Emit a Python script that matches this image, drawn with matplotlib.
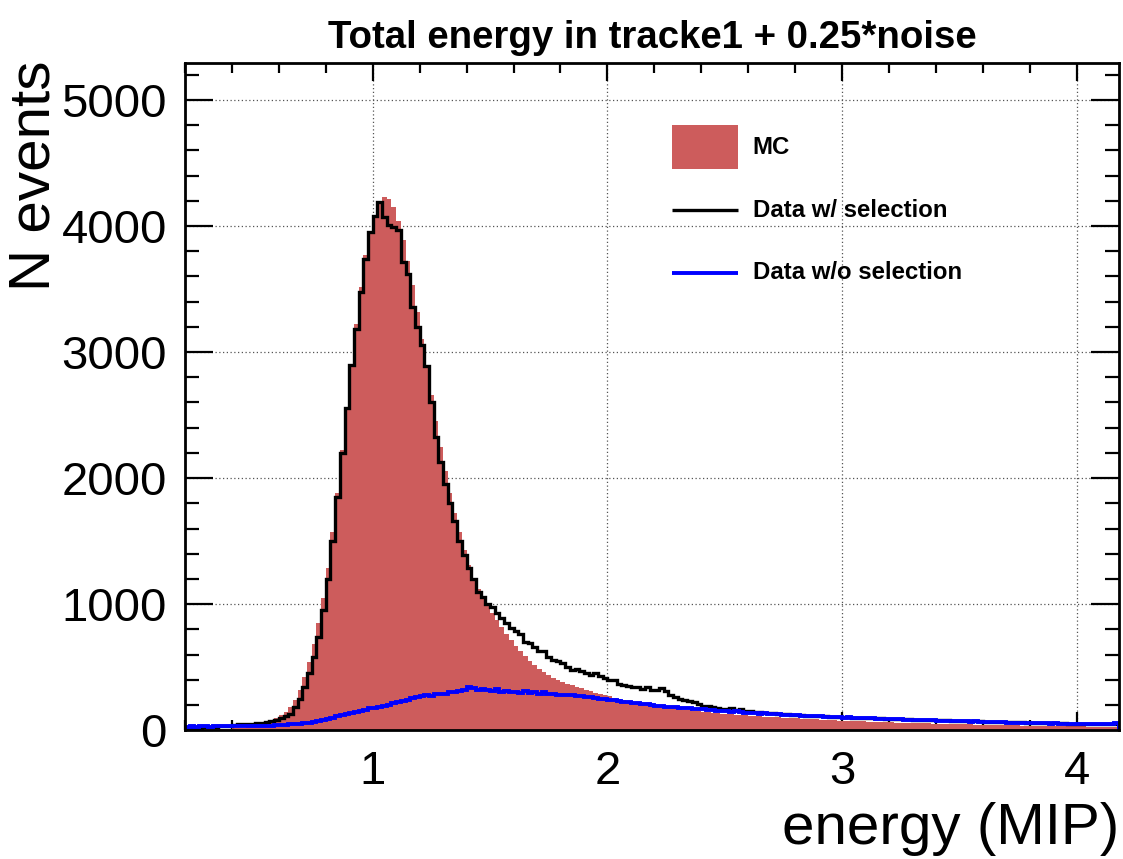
import numpy as np
import matplotlib
matplotlib.use("Agg")
import matplotlib.pyplot as plt
from matplotlib.ticker import MultipleLocator
from matplotlib.patches import Rectangle

# ---------------- data ----------------
BIN_LO = 0.2
BIN_W = 0.02

mc_counts = [
    4, 4, 5, 5, 6, 6, 7, 8, 9, 11,
    14, 17, 21, 27, 34, 42, 52, 64, 78, 95,
    118, 145, 185, 240, 320, 420, 540, 680, 850, 1050,
    1290, 1570, 1880, 2220, 2560, 2900, 3220, 3520, 3770, 3960,
    4090, 4180, 4230, 4215, 4150, 4040, 3890, 3720, 3530, 3320,
    3100, 2880, 2660, 2450, 2250, 2060, 1880, 1720, 1570, 1430,
    1310, 1210, 1120, 1050, 985, 930, 875, 820, 765, 715,
    670, 630, 590, 550, 515, 485, 460, 435, 415, 398,
    383, 370, 356, 343, 331, 320, 309, 298, 288, 278,
    268, 259, 250, 241, 233, 226, 219, 212, 205, 199,
    193, 187, 182, 177, 172, 167, 162, 158, 154, 150,
    146, 142, 138, 135, 132, 129, 126, 123, 120, 118,
    115, 113, 110, 108, 106, 104, 102, 100, 98, 96,
    94, 92, 90, 88, 86, 84, 82, 80, 78, 76,
    74, 73, 72, 70, 69, 68, 66, 65, 64, 63,
    62, 60, 59, 58, 57, 56, 55, 54, 53, 52,
    51, 50, 49, 48, 47, 46, 46, 45, 44, 43,
    42, 42, 41, 40, 39, 38, 38, 37, 36, 36,
    35, 34, 34, 33, 33, 32, 31, 31, 30, 30,
    29, 29, 28, 28, 27, 27, 26, 26, 25,
]

data_sel_counts = [
    18, 20, 22, 24, 25, 27, 28, 30, 33, 36,
    40, 45, 48, 50, 52, 55, 58, 63, 70, 80,
    95, 110, 130, 180, 250, 340, 450, 580, 740, 950,
    1200, 1500, 1850, 2200, 2560, 2900, 3180, 3480, 3740, 3950,
    4080, 4190, 4070, 4010, 3995, 3970, 3715, 3620, 3360, 3200,
    3060, 2890, 2600, 2330, 2130, 1950, 1800, 1660, 1500, 1390,
    1290, 1200, 1100, 1060, 1000, 975, 930, 890, 850, 810,
    790, 760, 700, 690, 660, 630, 625, 580, 560, 545,
    530, 505, 480, 485, 470, 455, 440, 450, 430, 410,
    400, 395, 370, 360, 350, 340, 345, 330, 340, 320,
    315, 335, 310, 280, 265, 250, 240, 228, 220, 205,
    195, 190, 182, 178, 170, 168, 172, 160, 165, 155,
    150, 145, 142, 140, 135, 138, 130, 128, 125, 122,
    120, 118, 114, 116, 112, 110, 111, 107, 106, 103,
    102, 104, 99, 100, 97, 96, 97, 93, 94, 91,
    90, 91, 87, 86, 88, 84, 83, 84, 80, 79,
    78, 77, 78, 74, 75, 73, 74, 70, 71, 69,
    68, 67, 66, 65, 64, 63, 62, 61, 62, 59,
    58, 57, 57, 56, 54, 55, 53, 54, 52, 51,
    50, 51, 49, 50, 48, 49, 48, 50, 52,
]

data_nosel_counts = [
    28, 30, 27, 29, 31, 28, 30, 32, 29, 31,
    30, 32, 31, 33, 32, 34, 33, 35, 36, 38,
    40, 42, 45, 48, 52, 55, 60, 66, 72, 80,
    92, 100, 110, 118, 126, 135, 145, 155, 163, 172,
    178, 185, 195, 200, 212, 222, 230, 240, 255, 262,
    270, 275, 272, 285, 290, 288, 300, 305, 310, 320,
    345, 335, 322, 330, 318, 312, 325, 305, 310, 300,
    305, 298, 308, 295, 300, 290, 302, 285, 288, 280,
    282, 275, 278, 270, 272, 262, 265, 255, 250, 248,
    240, 236, 230, 225, 222, 218, 212, 210, 205, 200,
    195, 190, 186, 184, 180, 176, 178, 172, 170, 168,
    166, 162, 158, 155, 150, 148, 146, 150, 144, 140,
    138, 136, 132, 134, 130, 128, 126, 124, 122, 121,
    118, 116, 115, 112, 113, 110, 108, 106, 105, 104,
    100, 101, 98, 97, 96, 94, 93, 91, 92, 89,
    87, 88, 85, 84, 82, 83, 80, 79, 80, 77,
    76, 74, 75, 72, 71, 72, 70, 68, 69, 66,
    65, 63, 64, 62, 61, 60, 59, 58, 59, 56,
    55, 56, 54, 53, 52, 53, 51, 50, 51, 49,
    48, 49, 47, 48, 46, 47, 49, 52, 55,
]

x_ticks = [1, 2, 3, 4]
y_ticks = [0, 1000, 2000, 3000, 4000, 5000]
legend_labels = ["MC", "Data w/ selection", "Data w/o selection"]
title_text = "Total energy in tracke1 + 0.25*noise"
x_label = "energy (MIP)"
y_label = "N events"

# ---------------- style ----------------
FONT = ["Liberation Sans", "DejaVu Sans"]
plt.rcParams["font.family"] = FONT
MC_COLOR = "#cd5c5c"
BLUE = "#0000ff"

n = len(mc_counts)
edges = BIN_LO + BIN_W * np.arange(n + 1)

fig = plt.figure(figsize=(11.23, 8.59), dpi=100)
ax = fig.add_axes([0.1647, 0.150, 0.8317, 0.7767])

ax.stairs(mc_counts, edges, fill=True, color=MC_COLOR, zorder=2)
ax.stairs(data_sel_counts, edges, color="black", lw=2.4, zorder=3)
ax.stairs(data_nosel_counts, edges, color=BLUE, lw=2.8, zorder=4)

ax.set_xlim(0.2, 4.18)
ax.set_ylim(0, 5294)
ax.set_xticks(x_ticks)
ax.set_xticklabels([str(t) for t in x_ticks])
ax.set_yticks(y_ticks)
ax.set_yticklabels([str(t) for t in y_ticks])
ax.xaxis.set_minor_locator(MultipleLocator(0.2))
ax.yaxis.set_minor_locator(MultipleLocator(200))

ax.set_axisbelow(True)
ax.grid(True, which="major", color="#555555", linestyle=(0, (1, 2)), lw=0.9)

for s in ax.spines.values():
    s.set_linewidth(2.0)
    s.set_zorder(6)

ax.tick_params(which="both", direction="in", top=True, right=True, width=1.6,
               labelsize=34, zorder=6)
ax.tick_params(axis="x", which="major", length=13, pad=14)
ax.tick_params(axis="x", which="minor", length=7)
ax.tick_params(axis="y", which="major", length=20, pad=13)
ax.tick_params(axis="y", which="minor", length=10)

# title and axis labels
fig.text(0.581, 0.944, title_text, ha="center", va="baseline",
         fontsize=27.6, fontweight="bold")
fig.text(0.997, 0.017, x_label, ha="right", va="baseline", fontsize=42)
fig.text(0.031, 0.929, y_label, ha="center", va="top", rotation=90, fontsize=42)

# legend (drawn in axes coordinates)
ax.add_patch(Rectangle((0.5214, 0.841), 0.0706, 0.066, transform=ax.transAxes,
                       facecolor=MC_COLOR, edgecolor="none", zorder=7))
ax.plot([0.5214, 0.592], [0.7796, 0.7796], transform=ax.transAxes,
        color="black", lw=2.4, zorder=7, solid_capstyle="butt")
ax.plot([0.5214, 0.592], [0.6852, 0.6852], transform=ax.transAxes,
        color=BLUE, lw=2.8, zorder=7, solid_capstyle="butt")
for yy, lab in zip([0.874, 0.7796, 0.6852], legend_labels):
    ax.text(0.608, yy, lab, transform=ax.transAxes, ha="left", va="center",
            fontsize=17.3, fontweight="bold", zorder=7)

fig.savefig("out.png", dpi=100)
